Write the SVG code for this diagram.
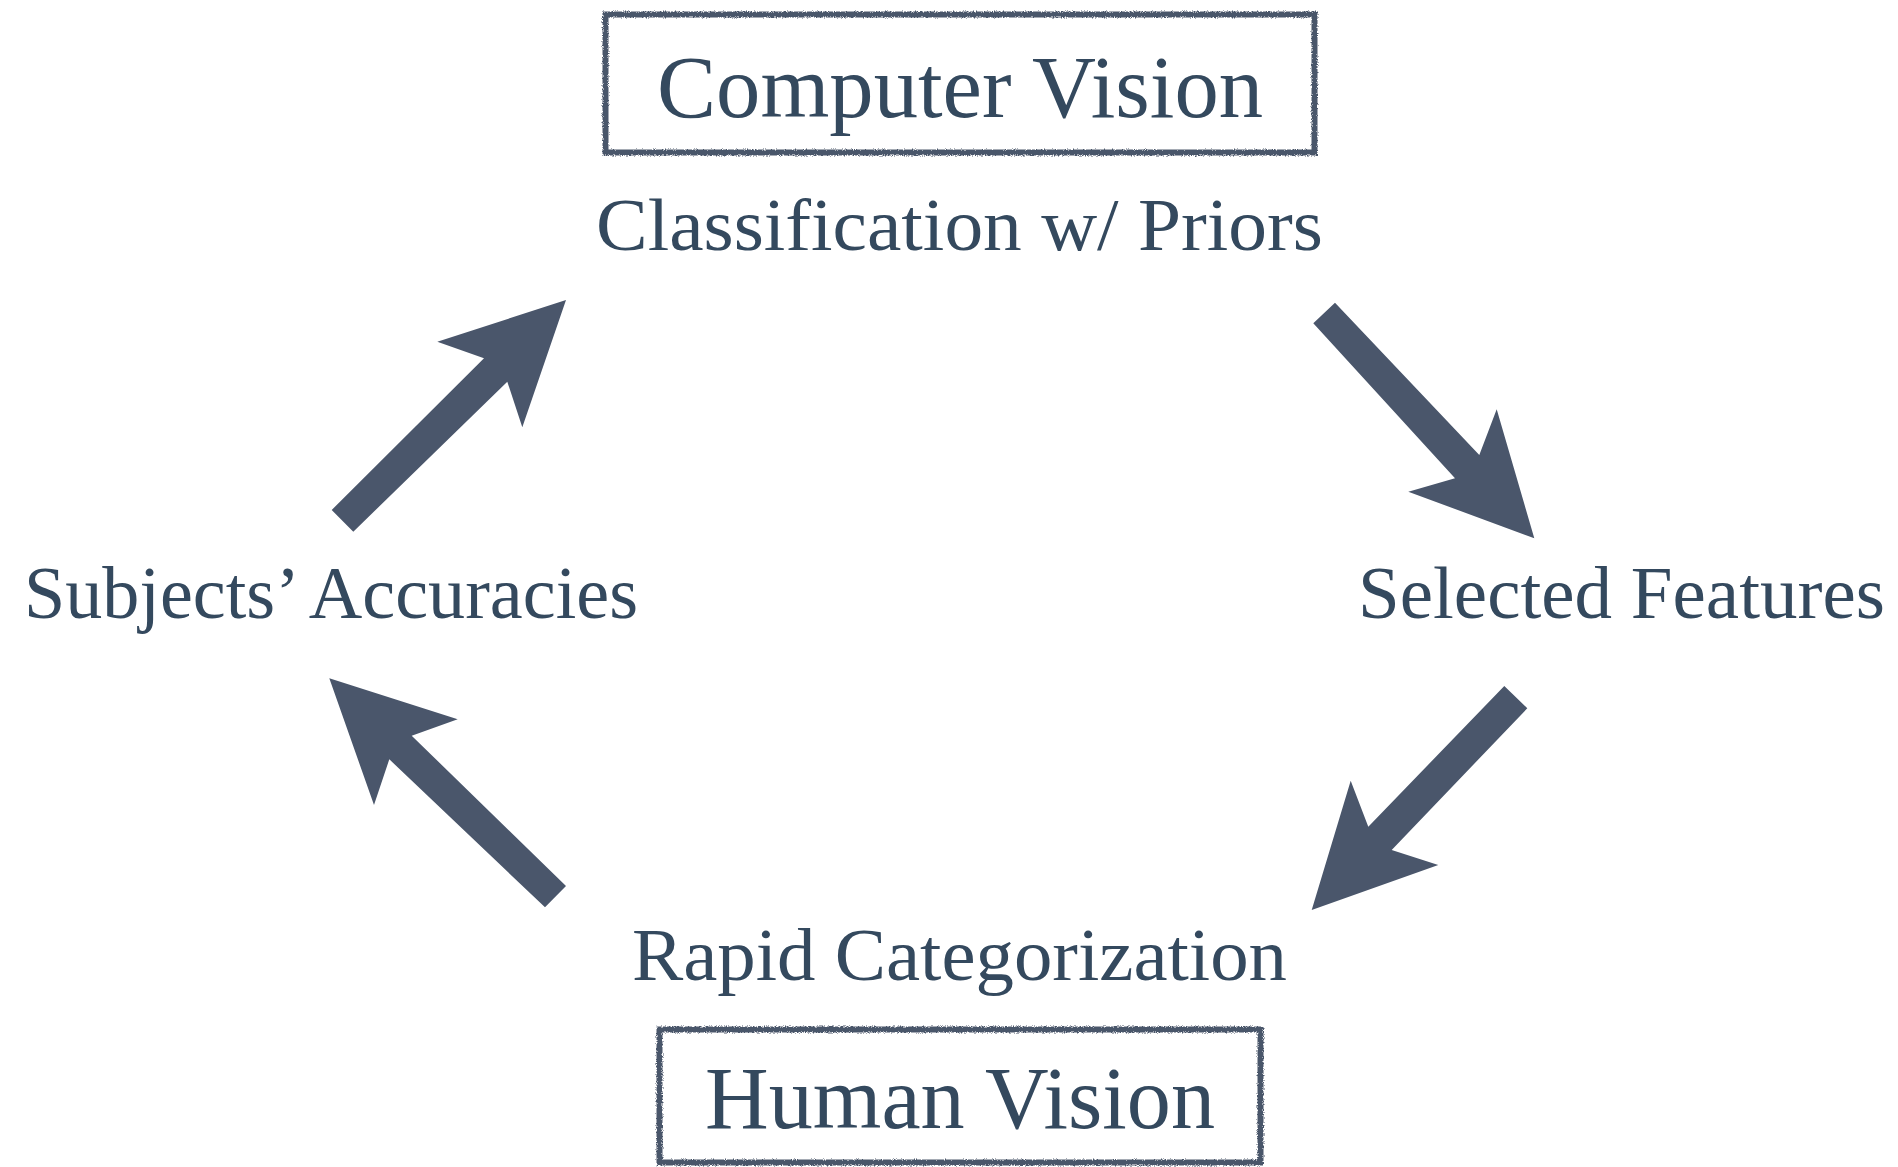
<svg xmlns="http://www.w3.org/2000/svg" width="1898" height="1167" viewBox="0 0 1898 1167">
<style>
.bg{fill:#ffffff}
.box{fill:none;stroke:#4a566b;stroke-width:6;filter:url(#rough)}
.title{font-family:"Liberation Serif",serif;font-size:88px;fill:#34495e;text-anchor:middle}
.label{font-family:"Liberation Serif",serif;font-size:75px;fill:#34495e;text-anchor:middle}
.arrow{fill:#4a566b}
</style>
<defs>
<filter id="rough" x="-5%" y="-5%" width="110%" height="110%">
<feTurbulence type="fractalNoise" baseFrequency="0.9" numOctaves="2" seed="3" result="n"/>
<feDisplacementMap in="SourceGraphic" in2="n" scale="4" xChannelSelector="R" yChannelSelector="G"/>
</filter>
</defs>
<rect class="bg" x="0" y="0" width="1898" height="1167"/>
<g id="computer-vision">
<rect class="box" x="605.5" y="14.5" width="709" height="138"/>
<text class="title" x="960" y="117" textLength="606" lengthAdjust="spacingAndGlyphs">Computer Vision</text>
</g>
<g id="classification">
<text class="label" x="959.5" y="250" textLength="727" lengthAdjust="spacingAndGlyphs">Classification w/ Priors</text>
</g>
<g id="selected-features">
<text class="label" x="1621.5" y="618" textLength="527" lengthAdjust="spacingAndGlyphs">Selected Features</text>
</g>
<g id="rapid-categorization">
<text class="label" x="959.5" y="980" textLength="655" lengthAdjust="spacingAndGlyphs">Rapid Categorization</text>
</g>
<g id="subjects-accuracies">
<text class="label" x="331" y="618" textLength="614" lengthAdjust="spacingAndGlyphs">Subjects’ Accuracies</text>
</g>
<g id="human-vision">
<rect class="box" x="659.5" y="1029.5" width="601" height="133"/>
<text class="title" x="960" y="1128" textLength="510" lengthAdjust="spacingAndGlyphs">Human Vision</text>
</g>
<g id="connectors">
<polygon class="arrow" points="331.7,510 484,358.3 437.3,341.7 566,300 522.3,427.3 507.3,381.7 353.3,531.7"/>
<polygon class="arrow" points="1335,302.7 1479.3,455 1496.7,409.3 1534.3,538.3 1408.3,491.7 1455,478.3 1313.3,323.3"/>
<polygon class="arrow" points="1504.3,686 1368.3,826.7 1350.7,780.7 1311.7,910 1438.3,865 1391.7,850 1527.3,708.3"/>
<polygon class="arrow" points="566,886 411.7,735.7 457.7,719.3 329.3,678.3 374,805 389.3,759.3 545,907.3"/>
</g>
</svg>
